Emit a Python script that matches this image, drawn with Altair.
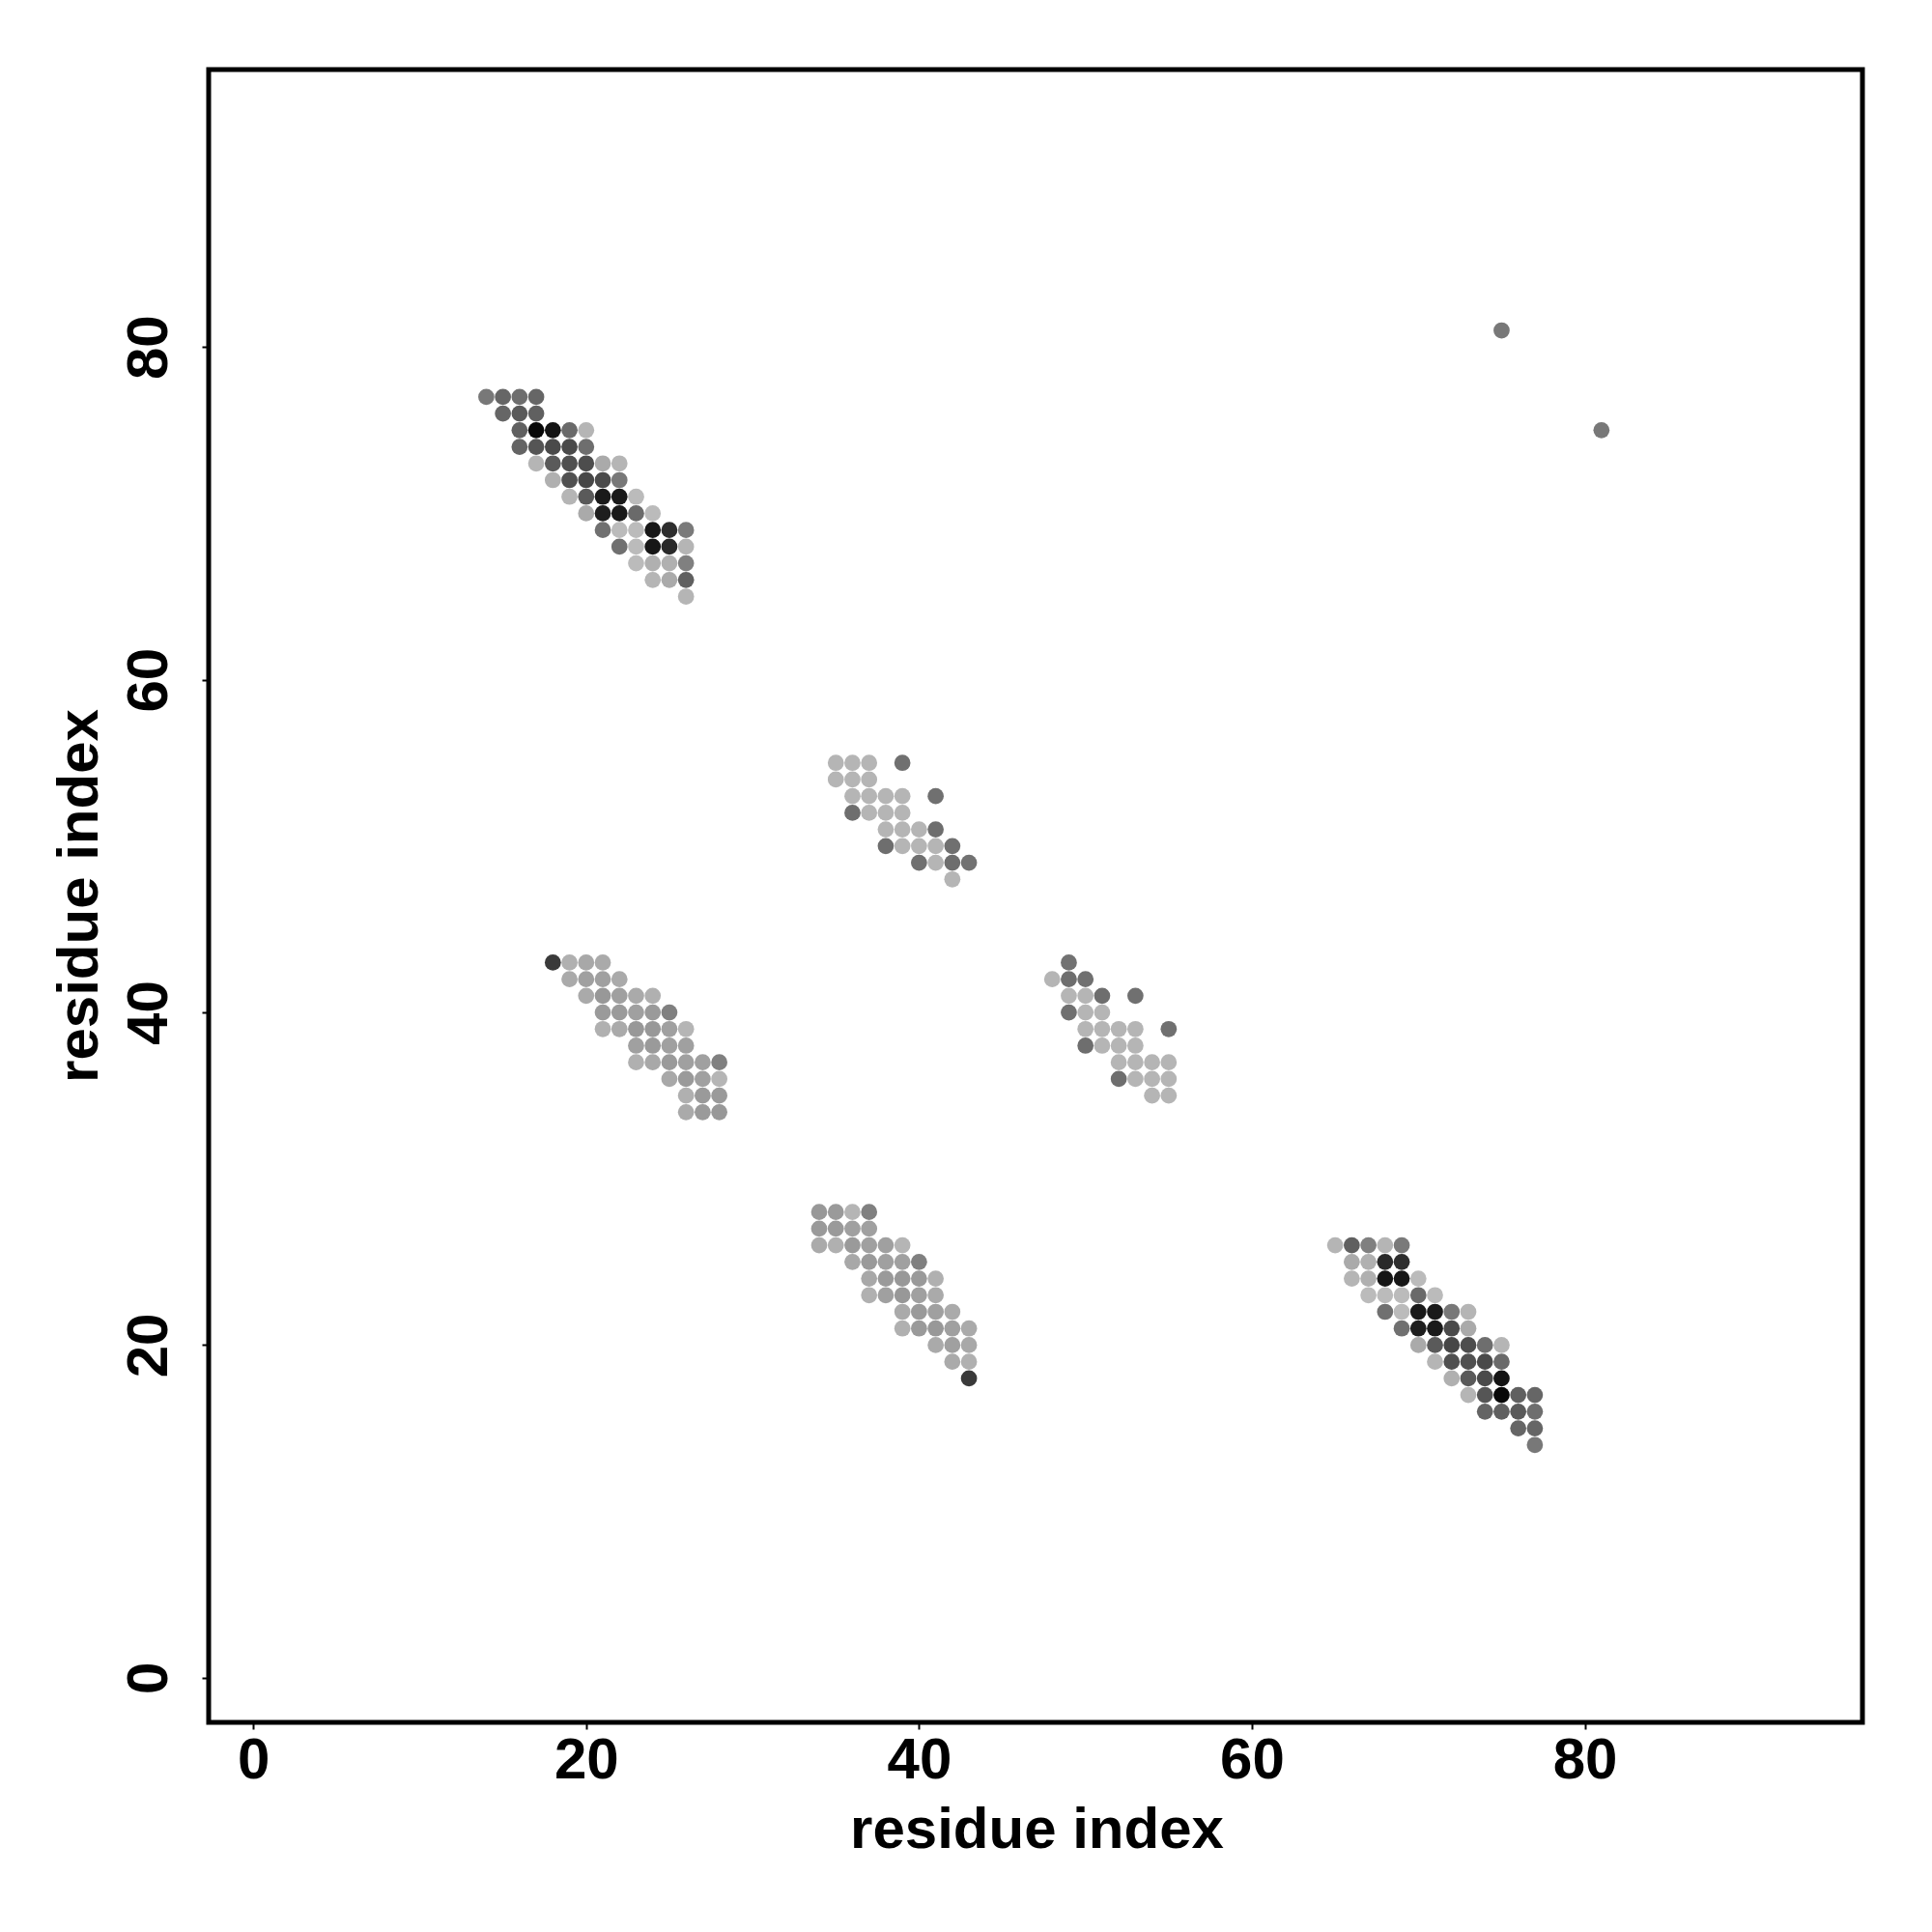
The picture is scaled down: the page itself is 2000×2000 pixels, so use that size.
import altair as alt
import pandas as pd

# Residue-residue contacts read from the upper triangle (j > i) of the symmetric map.
# Each entry: residue j (row), residues i (columns), contact frequency for each i.
contact_rows = [
    # anti-parallel pairing 14-26 / 65-77
    (77, [14, 15, 16, 17], [0.40, 0.49, 0.45, 0.49]),
    (76, [15, 16, 17], [0.49, 0.55, 0.52]),
    (75, [16, 17, 18, 19, 20], [0.52, 0.96, 0.90, 0.47, 0.095]),
    (74, [16, 17, 18, 19, 20], [0.50, 0.575, 0.63, 0.63, 0.45]),
    (73, [17, 18, 19, 20, 21, 22], [0.095, 0.55, 0.60, 0.615, 0.15, 0.095]),
    (72, [18, 19, 20, 21, 22], [0.12, 0.60, 0.645, 0.63, 0.40]),
    (71, [19, 20, 21, 22, 23], [0.095, 0.55, 0.87, 0.87, 0.065]),
    (70, [20, 21, 22, 23, 24], [0.15, 0.85, 0.87, 0.47, 0.065]),
    (69, [21, 22, 23, 24, 25, 26], [0.44, 0.065, 0.065, 0.885, 0.77, 0.39]),
    (68, [22, 23, 24, 25, 26], [0.44, 0.065, 0.89, 0.79, 0.095]),
    (67, [23, 24, 25, 26], [0.065, 0.12, 0.12, 0.36]),
    (66, [24, 25, 26], [0.095, 0.15, 0.52]),
    (65, [26], [0.095]),
    # pairing 35-43 / 48-55
    (55, [35, 36, 37, 39], [0.095, 0.095, 0.095, 0.44]),
    (54, [35, 36, 37], [0.095, 0.095, 0.095]),
    (53, [36, 37, 38, 39, 41], [0.095, 0.095, 0.095, 0.095, 0.44]),
    (52, [36, 37, 38, 39], [0.45, 0.095, 0.095, 0.095]),
    (51, [38, 39, 40, 41], [0.095, 0.095, 0.095, 0.45]),
    (50, [38, 39, 40, 41, 42], [0.45, 0.095, 0.095, 0.095, 0.44]),
    (49, [40, 41, 42, 43], [0.44, 0.095, 0.45, 0.43]),
    (48, [42], [0.095]),
    # pairing 18-28 / 34-43
    (43, [18, 19, 20, 21], [0.71, 0.12, 0.16, 0.15]),
    (42, [19, 20, 21, 22], [0.15, 0.20, 0.20, 0.15]),
    (41, [20, 21, 22, 23, 24], [0.15, 0.24, 0.20, 0.15, 0.12]),
    (40, [21, 22, 23, 24, 25], [0.23, 0.23, 0.20, 0.23, 0.36]),
    (39, [21, 22, 23, 24, 25, 26], [0.12, 0.15, 0.24, 0.24, 0.20, 0.095]),
    (38, [23, 24, 25, 26], [0.20, 0.23, 0.20, 0.20]),
    (37, [23, 24, 25, 26, 27, 28], [0.12, 0.16, 0.23, 0.20, 0.20, 0.36]),
    (36, [25, 26, 27, 28], [0.16, 0.23, 0.20, 0.095]),
    (35, [26, 27, 28], [0.12, 0.23, 0.23]),
    (34, [26, 27, 28], [0.15, 0.23, 0.24]),
    # isolated contact
    (81, [75], [0.40]),
]

tick_values = [0, 20, 40, 60, 80]
axis_title = "residue index"

records = []
for j, i_list, f_list in contact_rows:
    for i, f in zip(i_list, f_list):
        records.append({"x": i, "y": j, "freq": f})
        records.append({"x": j, "y": i, "freq": f})  # symmetric partner
df = pd.DataFrame(records)

FONT = "Liberation Sans"
FS = 60

x_axis = alt.Axis(
    values=tick_values, format="d", grid=False, domain=False,
    ticks=True, tickSize=7, tickWidth=2, tickColor="black",
    labelFont=FONT, labelFontSize=FS, labelFontWeight="bold", labelColor="black",
    labelBaseline="alphabetic", labelPadding=50, labelFlush=False,
    title=axis_title, titleFont=FONT, titleFontSize=FS, titleFontWeight="bold",
    titleColor="black", titleBaseline="alphabetic", titleAlign="center",
    titleX=857, titleY=129,
)
y_axis = alt.Axis(
    values=tick_values, format="d", grid=False, domain=False,
    ticks=True, tickSize=7, tickWidth=2, tickColor="black",
    labelFont=FONT, labelFontSize=FS, labelFontWeight="bold", labelColor="black",
    labelAngle=270, labelAlign="center", labelBaseline="alphabetic",
    labelPadding=37, labelFlush=False,
    title=axis_title, titleFont=FONT, titleFontSize=FS, titleFontWeight="bold",
    titleColor="black", titleBaseline="alphabetic", titleAlign="center",
    titleAngle=270, titleX=-116, titleY=855,
)

chart = (
    alt.Chart(df)
    .mark_circle(size=280, opacity=1)
    .encode(
        x=alt.X("x:Q", scale=alt.Scale(domain=[-2.68, 96.68], nice=False, zero=False), axis=x_axis),
        y=alt.Y("y:Q", scale=alt.Scale(domain=[-2.68, 96.68], nice=False, zero=False), axis=y_axis),
        color=alt.Color(
            "freq:Q",
            scale=alt.Scale(domain=[0, 1], range=["#c8c8c8", "#000000"], interpolate="rgb"),
            legend=None,
        ),
    )
    .properties(
        width=1712,
        height=1711,
        autosize=alt.AutoSizeParams(type="none"),
        padding={"left": 208, "top": 64, "right": 64, "bottom": 200},
        background="white",
    )
    .configure_view(stroke="black", strokeWidth=5)
)

chart.save("out.html", embed_options={"renderer": "svg", "actions": False})
